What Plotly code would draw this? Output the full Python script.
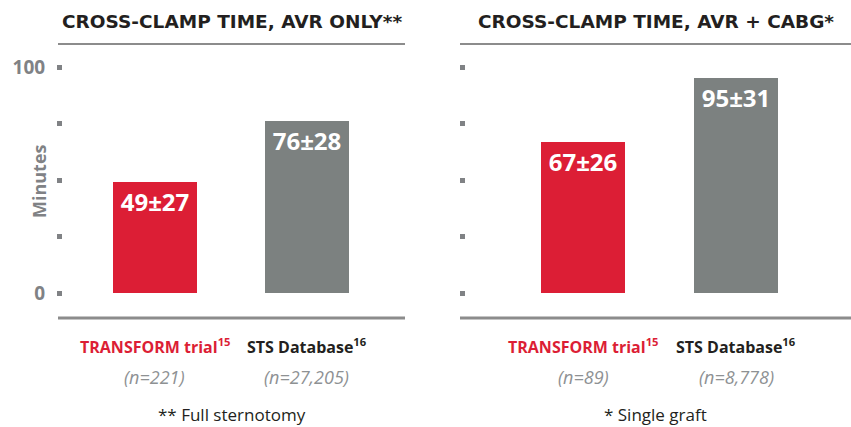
import plotly.graph_objects as go

# ---- data ----
panel_titles = ["CROSS-CLAMP TIME, AVR ONLY**", "CROSS-CLAMP TIME, AVR + CABG*"]
categories = ["TRANSFORM trial", "STS Database"]
refs = ["15", "16"]
left_values = [49, 76]
left_sd = [27, 28]
right_values = [67, 95]
right_sd = [26, 31]
left_n = ["n=221", "n=27,205"]
right_n = ["n=89", "n=8,778"]
footnotes = ["** Full sternotomy", "* Single graft"]
y_ticks = [0, 25, 50, 75, 100]
y_ticklabels_left = ["0", "", "", "", "100"]

RED = "#DC1E35"
GRAY_BAR = "#7C8180"
GRAY_TXT = "#808285"
N_GRAY = "#8E9193"
DARK = "#231F20"
LINE = "#8C8C8C"
FONT = "Open Sans"

W, H = 851, 427
def px(x): return x / W
def py(y): return 1 - y / H

fig = go.Figure()

panels = [
    dict(vals=left_values, sd=left_sd, ns=left_n, xa="x", ya="y",
         dom=[px(63), px(405)], rng=[-0.605, 1.645], line=[58, 405], tl=y_ticklabels_left),
    dict(vals=right_values, sd=right_sd, ns=right_n, xa="x2", ya="y2",
         dom=[px(466), px(851)], rng=[-0.765, 1.75], line=[460, 851], tl=[""] * 5),
]

ydom = [py(318), py(50)]
yrng = [-(318 - 293) / 2.26, (293 - 50) / 2.26]

annotations = []
shapes = []
for i, p in enumerate(panels):
    fig.add_trace(go.Bar(
        x=[0, 1], y=p["vals"], xaxis=p["xa"], yaxis=p["ya"],
        marker=dict(color=[RED, GRAY_BAR], line=dict(width=0)),
        width=0.55,
        text=[f"{v}±{s}" for v, s in zip(p["vals"], p["sd"])],
        textposition="inside", insidetextanchor="end",
        textfont=dict(family=FONT, size=24, color="white", weight="bold"),
        textangle=0, hoverinfo="skip", showlegend=False,
    ))
    sfx = "" if i == 0 else "2"
    fig.update_layout(**{
        f"xaxis{sfx}": dict(domain=p["dom"], range=p["rng"], visible=False,
                             anchor=f"y{sfx}", fixedrange=True),
        f"yaxis{sfx}": dict(domain=ydom, range=yrng, anchor=f"x{sfx}",
                             tickvals=y_ticks, ticktext=p["tl"],
                             ticks="outside", ticklen=5, tickwidth=5, tickcolor=GRAY_TXT,
                             showgrid=False, zeroline=False, showline=False,
                             ticklabelstandoff=8, fixedrange=True,
                             tickfont=dict(family=FONT, size=19, color=GRAY_TXT, weight="bold")),
    })
    cx = (p["line"][0] + p["line"][1]) / 2
    # title
    annotations.append(dict(text=panel_titles[i], xref="paper", yref="paper",
                            x=px(cx), y=py(21), showarrow=False, xanchor="center", yanchor="middle",
                            font=dict(family="DejaVu Sans", size=18.5, color=DARK, weight="bold")))
    # title line and bottom line
    shapes.append(dict(type="line", xref="paper", yref="paper", x0=px(p["line"][0]), x1=px(p["line"][1]),
                       y0=py(44), y1=py(44), line=dict(color=LINE, width=2)))
    shapes.append(dict(type="line", xref="paper", yref="paper", x0=px(p["line"][0]), x1=px(p["line"][1]),
                       y0=py(318), y1=py(318), line=dict(color=LINE, width=3)))
    # category labels
    for j, (cat, ref) in enumerate(zip(categories, refs)):
        col = RED if j == 0 else DARK
        annotations.append(dict(text=f"{cat}<sup>{ref}</sup>", xref=p["xa"], yref="paper",
                                x=j, y=py(346), showarrow=False, xanchor="center", yanchor="middle",
                                font=dict(family=FONT, size=16, color=col, weight="bold")))
        annotations.append(dict(text=f"<i>({p['ns'][j]})</i>", xref=p["xa"], yref="paper",
                                x=j, y=py(377), showarrow=False, xanchor="center", yanchor="middle",
                                font=dict(family=FONT, size=18, color=N_GRAY)))
    annotations.append(dict(text=footnotes[i], xref="paper", yref="paper",
                            x=px(cx), y=py(414), showarrow=False, xanchor="center", yanchor="middle",
                            font=dict(family=FONT, size=17, color=DARK)))

# y-axis title
annotations.append(dict(text="Minutes", xref="paper", yref="paper", x=px(39), y=py(181),
                        showarrow=False, textangle=-90, xanchor="center", yanchor="middle",
                        font=dict(family=FONT, size=18, color=GRAY_TXT, weight="bold")))

fig.update_layout(width=W, height=H, margin=dict(l=0, r=0, t=0, b=0),
                  paper_bgcolor="white", plot_bgcolor="white",
                  annotations=annotations, shapes=shapes, bargap=0)

fig.write_html("out.html", config={"displayModeBar": False},
               post_script="document.body.style.margin='0';document.body.style.overflow='hidden';")
